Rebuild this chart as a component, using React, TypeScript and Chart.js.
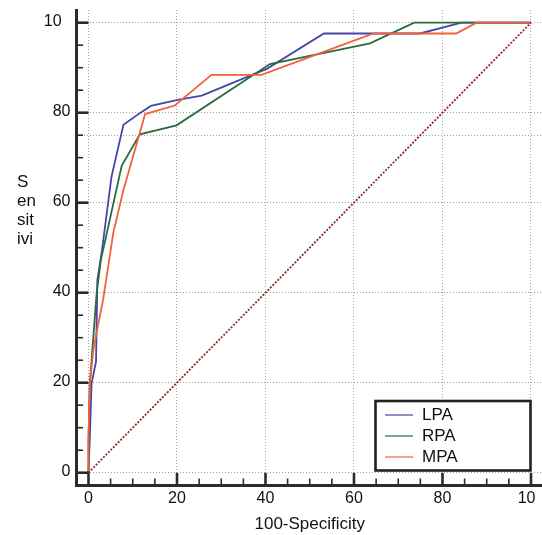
import React, { useEffect, useRef } from 'react';
import { Chart, registerables } from 'chart.js';

Chart.register(...registerables);

// ---- data ----
const seriesNames = ['LPA', 'RPA', 'MPA'];
const seriesColors = ['#4646aa', '#2a6c3c', '#f0623a'];

const lpaX = [0, 0.3, 0.7, 1.7, 2.0, 3.0, 5.2, 7.9, 11.6, 14.1, 19.9, 25.6, 40.4, 53.2, 74.9, 84.3, 100];
const lpaY = [0, 8, 19.9, 24.7, 42.8, 49.1, 65.8, 77.3, 79.9, 81.5, 82.8, 83.8, 89.8, 97.6, 97.6, 100, 100];

const rpaX = [0, 0, 0.3, 0.7, 1.85, 2.8, 7.5, 11.6, 19.9, 41.0, 63.6, 73.6, 100];
const rpaY = [0, 7, 19.9, 25, 40, 47.3, 68.2, 75.2, 77.2, 90.8, 95.4, 100, 100];

const mpaX = [0, 0, 0.3, 1.1, 1.5, 3.3, 5.6, 7.9, 12.8, 19.5, 27.8, 39.1, 64.4, 83.1, 87.7, 100];
const mpaY = [0, 8, 19.9, 27.3, 29.5, 38.4, 53.3, 62.8, 79.7, 81.6, 88.4, 88.4, 97.6, 97.6, 100, 100];

const diagX = [0, 100];
const diagY = [0, 100];

const majorTicks = [0, 20, 40, 60, 80, 100];
const xTickLabels = ['0', '20', '40', '60', '80', '10'];
const yTickLabels = ['0', '20', '40', '60', '80', '10'];
const minorTicks = [0, 5, 10, 15, 20, 25, 30, 35, 40, 45, 50, 55, 60, 65, 70, 75, 80, 85, 90, 95, 100];
const extraGridY = [75];
const xTitle = '100-Specificity';
const yTitleLines = ['S', 'en', 'sit', 'ivi'];

const FONT = '"Liberation Sans", Arial, Helvetica, sans-serif';
const AXIS_COLOR = '#2b2b2b';

const toPoints = (xs: number[], ys: number[]) => xs.map((x, i) => ({ x, y: ys[i] }));

const decorPlugin = {
  id: 'decor',
  afterDraw(chart: any) {
    const { ctx, chartArea } = chart;
    const xs = chart.scales.x;
    const ys = chart.scales.y;
    ctx.save();
    // tick marks (inward)
    ctx.strokeStyle = AXIS_COLOR;
    minorTicks.forEach((v) => {
      const major = majorTicks.includes(v);
      ctx.lineWidth = major ? 2.6 : 1.6;
      const py = ys.getPixelForValue(v);
      ctx.beginPath();
      ctx.moveTo(chartArea.left, py);
      ctx.lineTo(chartArea.left + (major ? 12 : 6.5), py);
      ctx.stroke();
      const px = xs.getPixelForValue(v);
      ctx.beginPath();
      ctx.moveTo(px, chartArea.bottom);
      ctx.lineTo(px, chartArea.bottom - (major ? 12 : 6.5));
      ctx.stroke();
    });
    // tick labels
    ctx.fillStyle = '#111';
    ctx.font = `16px ${FONT}`;
    ctx.textBaseline = 'middle';
    ctx.textAlign = 'left';
    majorTicks.forEach((v, i) => {
      const full = String(v);
      const w = ctx.measureText(full).width;
      const py = ys.getPixelForValue(v);
      ctx.fillText(yTickLabels[i], chartArea.left - 6 - w, py - 1);
      const px = xs.getPixelForValue(v);
      ctx.fillText(xTickLabels[i], px - w / 2, 498.5);
    });
    // axis titles
    ctx.font = `17px ${FONT}`;
    ctx.textBaseline = 'alphabetic';
    ctx.textAlign = 'center';
    ctx.fillText(xTitle, xs.getPixelForValue(50), 529);
    ctx.textAlign = 'left';
    yTitleLines.forEach((t, i) => {
      ctx.fillText(t, 17, 187 + i * 19);
    });
    // legend
    const bx = 375.5, by = 401, bw = 155, bh = 69.5;
    ctx.fillStyle = '#fff';
    ctx.fillRect(bx, by, bw, bh);
    ctx.lineWidth = 2.6;
    ctx.strokeStyle = '#222';
    ctx.strokeRect(bx, by, bw, bh);
    seriesNames.forEach((name, i) => {
      const ly = 415 + i * 21;
      ctx.strokeStyle = seriesColors[i];
      ctx.lineWidth = 1.2;
      ctx.beginPath();
      ctx.moveTo(385, ly);
      ctx.lineTo(413, ly);
      ctx.stroke();
      ctx.fillStyle = '#111';
      ctx.font = `17px ${FONT}`;
      ctx.fillText(name, 422, ly + 4.5);
    });
    ctx.restore();
  },
};

export default function App() {
  const ref = useRef<HTMLCanvasElement | null>(null);
  useEffect(() => {
    if (!ref.current) return;
    const lineDs = (i: number, xsArr: number[], ysArr: number[]) => ({
      label: seriesNames[i],
      data: toPoints(xsArr, ysArr),
      borderColor: seriesColors[i],
      backgroundColor: seriesColors[i],
      borderWidth: 1.8,
      showLine: true,
      pointRadius: 0,
      tension: 0,
      fill: false,
    });
    const gridColor = (extra: number[]) => (c: any) => {
      const v = c.tick ? c.tick.value : NaN;
      return majorTicks.includes(v) || extra.includes(v) ? '#a0a0a0' : 'rgba(0,0,0,0)';
    };
    const chart = new Chart(ref.current, {
      type: 'scatter',
      data: {
        datasets: [
          {
            label: 'diag',
            data: toPoints(diagX, diagY),
            borderColor: '#8a2a2a',
            borderWidth: 1.8,
            borderDash: [2, 1.5],
            showLine: true,
            pointRadius: 0,
            fill: false,
          } as any,
          lineDs(2, mpaX, mpaY),
          lineDs(1, rpaX, rpaY),
          lineDs(0, lpaX, lpaY),
        ],
      },
      options: {
        animation: false,
        responsive: false,
        maintainAspectRatio: false,
        layout: { padding: { top: 10, left: 0, right: 0, bottom: 0 } },
        plugins: { legend: { display: false }, tooltip: { enabled: false } },
        scales: {
          x: {
            type: 'linear',
            min: -2.712,
            max: 102.49,
            afterBuildTicks: (s: any) => {
              s.ticks = minorTicks.map((v) => ({ value: v }));
            },
            afterFit: (s: any) => {
              s.height = 50;
            },
            ticks: { display: false },
            grid: { color: gridColor([]), lineWidth: 1, drawTicks: false },
            border: { display: true, width: 3, color: AXIS_COLOR, dash: [1, 2] },
          },
          y: {
            type: 'linear',
            min: -2.733,
            max: 102.82,
            afterBuildTicks: (s: any) => {
              s.ticks = minorTicks.map((v) => ({ value: v }));
            },
            afterFit: (s: any) => {
              s.width = 76.5;
            },
            ticks: { display: false },
            grid: { color: gridColor(extraGridY), lineWidth: 1, drawTicks: false },
            border: { display: true, width: 3, color: AXIS_COLOR, dash: [1, 2] },
          },
        },
      } as any,
      plugins: [decorPlugin],
    });
    return () => chart.destroy();
  }, []);
  return (
    <div style={{ position: 'absolute', left: 0, top: 0, width: 542, height: 535 }}>
      <canvas ref={ref} width={542} height={535} style={{ display: 'block' }} />
    </div>
  );
}
